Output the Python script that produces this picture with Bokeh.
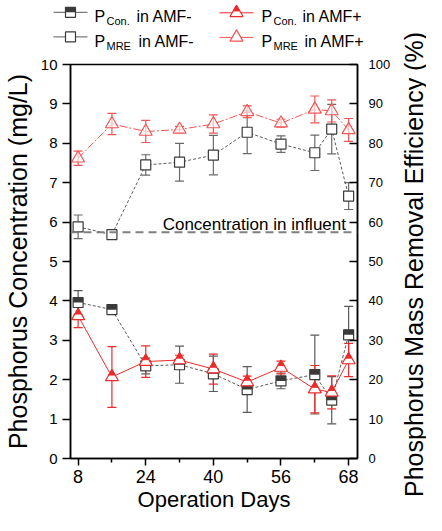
import math
from bokeh.plotting import figure
from bokeh.layouts import column, row
from bokeh.models import (ColumnDataSource, Whisker, TeeHead, Span, Label, LinearAxis,
                          Range1d, FixedTicker, Dodge)
from bokeh.transform import transform
from bokeh.core.properties import value
from bokeh.embed import file_html
from bokeh.resources import INLINE

# ---------------- data ----------------
day_pos = [8, 16, 24, 32, 40, 48, 56, 64, 68, 72]
x_tick_pos = [8, 24, 40, 56, 72]
x_tick_labels = ["8", "24", "40", "56", "68"]
x_minor_ticks = [16, 32, 48, 64]

con_amf_minus = [3.96, 3.78, 2.35, 2.38, 2.15, 1.75, 1.97, 2.13, 1.48, 3.14]
con_amf_minus_sd = [0.30, 0.07, 0.20, 0.47, 0.45, 0.58, 0.20, 1.00, 0.60, 0.72]

con_amf_plus = [3.62, 2.07, 2.46, 2.50, 2.27, 1.94, 2.31, 1.76, 1.68, 2.50]
con_amf_plus_sd = [0.30, 0.77, 0.40, 0.12, 0.38, 0.15, 0.16, 0.60, 0.42, 0.42]

mre_amf_minus = [58.8, 56.8, 74.5, 75.2, 77.0, 82.8, 79.8, 77.6, 83.6, 66.6]
mre_amf_minus_sd = [3.0, 0.5, 2.6, 4.8, 5.0, 5.4, 2.1, 4.5, 6.3, 3.4]

mre_amf_plus = [76.2, 84.9, 83.0, 83.5, 84.9, 88.0, 85.1, 88.6, 88.2, 83.4]
mre_amf_plus_sd = [1.8, 2.7, 2.8, 0.8, 2.3, 1.5, 1.0, 3.4, 2.8, 2.9]

influent_conc = 5.74

legend_sub = ["Con.", "MRE", "Con.", "MRE"]
legend_rest = ["in AMF-", "in AMF-", "in AMF+", "in AMF+"]

FONT = "Liberation Sans"
GRAY_D = "#3a3a3a"
GRAY_L = "#5a5a5a"
RED = "#ee2b2b"
RED_L = "#f25555"

W_MAIN = 400
LEG_H = 54
TOTAL_H = 515


def no_align(fig):
    if "frame_align" in fig.properties():
        fig.frame_align = False


X0, X1 = 6.2, 74.1
p = figure(width=W_MAIN, height=TOTAL_H - LEG_H, x_range=Range1d(X0, X1), y_range=Range1d(0, 10),
           output_backend="svg", toolbar_location=None,
           min_border_left=70, min_border_right=43, min_border_top=10, min_border_bottom=57,
           background_fill_color="white", border_fill_color="white",
           outline_line_color="black", outline_line_width=1.5)
p.grid.visible = False
p.extra_y_ranges = {"pct": Range1d(0, 100)}
no_align(p)

# axes
xa = p.xaxis[0]
xa.ticker = FixedTicker(ticks=x_tick_pos, minor_ticks=x_minor_ticks)
xa.major_label_overrides = {k: v for k, v in zip(x_tick_pos, x_tick_labels)}
xa.axis_label = "Operation Days"
ya = p.yaxis[0]
ya.ticker = FixedTicker(ticks=list(range(0, 11)))
ya.axis_label = "Phosphorus Concentration (mg/L)"
ra = LinearAxis(y_range_name="pct", ticker=FixedTicker(ticks=list(range(0, 101, 10))))
p.add_layout(ra, "right")

for ax in (xa, ya, ra):
    ax.axis_line_color = "black"
    ax.axis_line_width = 1.5
    ax.major_tick_line_color = "black"
    ax.major_tick_line_width = 1.5
    ax.minor_tick_line_color = "black"
    ax.minor_tick_line_width = 1.5
    ax.major_label_text_font = FONT
    ax.axis_label_text_font = FONT
    ax.axis_label_text_font_style = "normal"
    ax.major_label_text_color = "black"
    ax.axis_label_text_color = "black"

xa.major_tick_out = 7
xa.major_tick_in = 0
xa.minor_tick_out = 4
xa.minor_tick_in = 0
xa.major_label_text_font_size = "18px"
xa.axis_label_text_font_size = "22px"
xa.major_label_standoff = 4
xa.axis_label_standoff = 1

ya.major_tick_out = 8
ya.major_tick_in = 0
ya.minor_tick_out = 0
ya.minor_tick_in = 0
ya.major_label_text_font_size = "15px"
ya.axis_label_text_font_size = "25px"
ya.major_label_standoff = 5
ya.axis_label_standoff = 6

ra.major_tick_out = 0
ra.major_tick_in = 8
ra.minor_tick_out = 0
ra.minor_tick_in = 0
ra.major_label_text_font_size = "13px"
ra.major_label_standoff = 11

# influent line
p.add_layout(Span(location=influent_conc, dimension="width", line_color="#808080",
                  line_width=2, line_dash="8 5"))
p.add_layout(Label(x=28.0, y=5.94, text="Concentration in influent", text_font=FONT,
                   text_font_size="17px", text_color="black", text_baseline="alphabetic"))


def src(y, sd):
    return ColumnDataSource(dict(x=day_pos, y=y,
                                 lo=[a - b for a, b in zip(y, sd)],
                                 hi=[a + b for a, b in zip(y, sd)]))


def whisk(s, color, rng="default"):
    w = Whisker(base="x", upper="hi", lower="lo", source=s, dimension="height",
                line_color=color, line_width=1.2, y_range_name=rng,
                upper_head=TeeHead(size=9, line_color=color, line_width=1.2),
                lower_head=TeeHead(size=9, line_color=color, line_width=1.2))
    p.add_layout(w)


s_mre_m = src(mre_amf_minus, mre_amf_minus_sd)
s_mre_p = src(mre_amf_plus, mre_amf_plus_sd)
s_con_m = src(con_amf_minus, con_amf_minus_sd)
s_con_p = src(con_amf_plus, con_amf_plus_sd)

whisk(s_mre_m, "#6a6a6a", "pct")
whisk(s_mre_p, RED_L, "pct")
whisk(s_con_m, GRAY_L)
whisk(s_con_p, RED)

# MRE AMF- (open squares)
p.line("x", "y", source=s_mre_m, y_range_name="pct", line_color=GRAY_L, line_width=1, line_dash="3 2")
p.scatter("x", "y", source=s_mre_m, y_range_name="pct", marker="square", size=10,
          fill_color="white", line_color=GRAY_D, line_width=1.2)
# MRE AMF+ (open triangles)
p.line("x", "y", source=s_mre_p, y_range_name="pct", line_color=RED_L, line_width=1, line_dash="8 2 2 2")
p.scatter("x", "y", source=s_mre_p, marker="triangle", y_range_name="pct", size=13,
          fill_color="white", fill_alpha=0.6, line_color=RED_L, line_width=1.2)

# Con AMF- (half-filled squares)
p.line("x", "y", source=s_con_m, line_color=GRAY_L, line_width=1, line_dash="3 2")
p.scatter("x", "y", source=s_con_m, marker="square", size=10, fill_color="white",
          line_color=GRAY_D, line_width=1.2)
p.rect(x="x", y=transform("y", Dodge(value=0.062)), source=s_con_m, width=10, height=5,
       width_units="screen", height_units="screen", fill_color=GRAY_D, line_color=None)
# Con AMF+ (half-filled triangles)
p.line("x", "y", source=s_con_p, line_color=RED, line_width=1)
p.scatter("x", "y", source=s_con_p, marker="triangle", size=13, fill_color="white",
          line_color=RED, line_width=1.2)
p.scatter(x="x", y=transform("y", Dodge(value=0.095)), source=s_con_p, marker="triangle",
          size=6.5, fill_color=RED, line_color=RED, line_width=1)

# ---------------- legend strip (pixel-like coordinates, y downward) ----------------
leg = figure(width=W_MAIN, height=LEG_H, x_range=Range1d(0, W_MAIN), y_range=Range1d(LEG_H, 0),
             output_backend="svg", toolbar_location=None,
             min_border_left=0, min_border_right=0, min_border_top=0, min_border_bottom=0,
             x_axis_location=None, y_axis_location=None, outline_line_color=None,
             background_fill_color="white", border_fill_color="white")
leg.grid.visible = False
no_align(leg)

col_marker_x = [70, 70, 236, 236]
row_marker_y = [11.8, 36.4, 12.3, 36.9]
col_text_x = [94, 94, 261, 261]
row_base_y = [15.6, 40.7, 15.6, 40.7]
rest_x = [136, 138, 302, 304]
line_cols = [GRAY_L, GRAY_L, RED, RED_L]

for i in range(4):
    cx, cy = col_marker_x[i], row_marker_y[i]
    leg.segment(x0=[cx - 17], x1=[cx + 17], y0=[cy], y1=[cy], line_color=line_cols[i], line_width=1)
    if i < 2:
        leg.scatter([cx], [cy], marker="square", size=10, fill_color="white",
                    line_color=GRAY_D, line_width=1.2)
        if i == 0:
            leg.rect([cx], [cy - 2.5], width=10, height=5, fill_color=GRAY_D, line_color=None)
    else:
        leg.scatter([cx], [cy], marker="triangle", size=13, fill_color="white",
                    line_color=line_cols[i], line_width=1.2)
        if i == 2:
            leg.scatter([cx], [cy - 3.75], marker="triangle", size=6.5, fill_color=RED,
                        line_color=RED, line_width=1)
    tb = row_base_y[i]
    leg.text([col_text_x[i]], [tb], text=["P"], text_font=value(FONT),
             text_font_size=value("16px"), text_baseline="alphabetic", text_color="black")
    leg.text([col_text_x[i] + 12], [tb + 5.2], text=[legend_sub[i]], text_font=value(FONT),
             text_font_size=value("11px"), text_baseline="alphabetic", text_color="black")
    leg.text([rest_x[i]], [tb], text=[legend_rest[i]], text_font=value(FONT),
             text_font_size=value("16px"), text_baseline="alphabetic", text_color="black")

# ---------------- right-hand axis title strip ----------------
W_T = 26
tfig = figure(width=W_T, height=TOTAL_H, x_range=Range1d(0, W_T), y_range=Range1d(0, TOTAL_H),
              output_backend="svg", toolbar_location=None,
              min_border_left=0, min_border_right=0, min_border_top=0, min_border_bottom=0,
              x_axis_location=None, y_axis_location=None, outline_line_color=None,
              background_fill_color="white", border_fill_color="white")
tfig.grid.visible = False
no_align(tfig)
tfig.text([13], [TOTAL_H - 264], text=["Phosphorus Mass Removal Efficiency (%)"],
          text_font=value(FONT), text_font_size=value("25px"), angle=math.pi / 2,
          text_align="center", text_baseline="middle", text_color="black")

layout = row(column(leg, p, spacing=0), tfig, spacing=0)
open("out.html", "w").write(file_html(layout, INLINE))
